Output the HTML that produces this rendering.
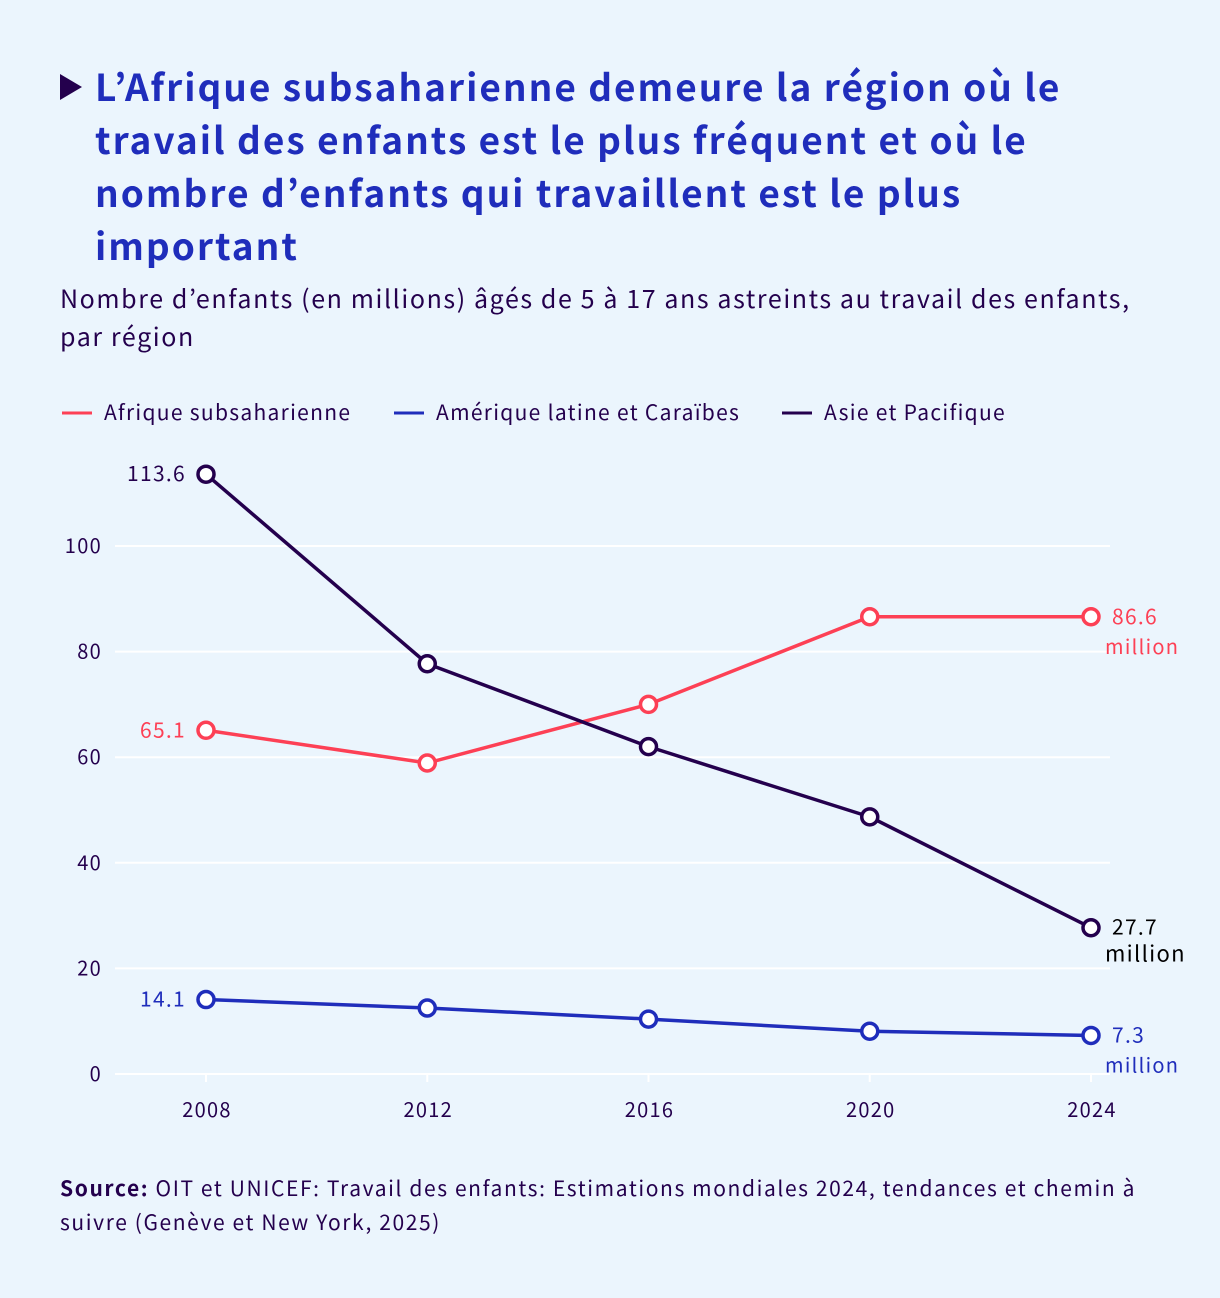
<!DOCTYPE html>
<html><head><meta charset="utf-8"><style>
body{margin:0;background:#ebf5fd;font-family:"Noto Sans CJK JP","Liberation Sans",sans-serif;}
#wrap{position:relative;width:1220px;height:1298px;overflow:hidden;background:#ebf5fd;}
h1{position:absolute;left:95px;top:59px;margin:0;width:1100px;font-size:37px;line-height:53px;color:#1f2dbb;font-weight:bold;white-space:nowrap;letter-spacing:2px;}
.tri{position:absolute;left:60px;top:74px;width:0;height:0;border-top:13px solid transparent;border-bottom:13px solid transparent;border-left:22px solid #24004d;}
.sub{position:absolute;left:60px;top:279px;font-size:25px;line-height:38px;color:#24004d;white-space:nowrap;letter-spacing:1.6px;}
.src{position:absolute;left:60px;top:1171px;font-size:21px;line-height:34px;color:#24004d;white-space:nowrap;letter-spacing:1.6px;}
svg text{font-family:"Noto Sans CJK JP","Liberation Sans",sans-serif;letter-spacing:1.3px;}
</style></head><body><div id="wrap">
<div class="tri"></div>
<h1>L’Afrique subsaharienne demeure la région où le<br>travail des enfants est le plus fréquent et où le<br>nombre d’enfants qui travaillent est le plus<br>important</h1>
<div class="sub">Nombre d’enfants (en millions) âgés de 5 à 17 ans astreints au travail des enfants,<br>par région</div>
<svg id="svg" width="1220" height="1298" style="position:absolute;left:0;top:0"></svg>
<div class="src"><b>Source:</b> OIT et UNICEF: Travail des enfants: Estimations mondiales 2024, tendances et chemin à<br>suivre (Genève et New York, 2025)</div>
</div>
<script>
const years=[2008,2012,2016,2020,2024];
const africa=[65.1,58.9,70.0,86.6,86.6];
const latam=[14.1,12.5,10.4,8.1,7.3];
const asia=[113.6,77.7,62.0,48.7,27.7];
const yTicks=[0,20,40,60,80,100];
const seriesNames=["Afrique subsaharienne","Amérique latine et Caraïbes","Asie et Pacifique"];
const NS="http://www.w3.org/2000/svg";
const svg=document.getElementById('svg');
const xs=y=>206+(y-2008)*(1091-206)/16;
const ys=v=>1074-v*5.28;
function el(t,a,txt){const e=document.createElementNS(NS,t);for(const k in a)e.setAttribute(k,a[k]);if(txt!==undefined)e.textContent=txt;svg.appendChild(e);return e;}
yTicks.forEach(t=>{
 const l=el('line',{x1:115,x2:1110,y1:ys(t),y2:ys(t),stroke:'#fff','stroke-width':2});
 
 
 const tx=el('text',{x:102,y:ys(t)+7,'text-anchor':'end','font-size':20,fill:'#24004d'},t);
 
 
});
years.forEach(y=>{
 const tk=el('line',{x1:xs(y),x2:xs(y),y1:1074,y2:1082,stroke:'#fff','stroke-width':2});
 
 
 const tx=el('text',{x:xs(y)+1,y:1117,'text-anchor':'middle','font-size':20,fill:'#24004d'},y);
 
 
});
const cols=['#fd4055','#1f2dbb','#24004d'];
const data=[africa,latam,asia];
const keys=['africa','latam','asia'];
const lx=[62,394,782];
seriesNames.forEach((n,i)=>{
 const l=el('line',{x1:lx[i],x2:lx[i]+30,y1:413,y2:413,stroke:cols[i],'stroke-width':3});
 
 
 const t=el('text',{x:lx[i]+42,y:420,'font-size':21,fill:'#24004d'},n);
 
 
});
data.forEach((d,i)=>{
 const p=el('polyline',{points:d.map((v,j)=>xs(years[j])+','+ys(v)).join(' '),fill:'none',stroke:cols[i],'stroke-width':3.5,'stroke-linejoin':'round'});
 
 
});
data.forEach((d,i)=>{
 d.forEach((v,j)=>{
  const c=el('circle',{cx:xs(years[j]),cy:ys(v),r:8,fill:'#fff',stroke:cols[i],'stroke-width':3.5});
  
  
 });
});
const labColor=['#fd4055','#1f2dbb','#24004d'];
data.forEach((d,i)=>{
 const a=el('text',{x:xs(years[0])-20,y:ys(d[0])+7,'text-anchor':'end','font-size':21,fill:labColor[i]},d[0].toFixed(1));
 
 
 const last=d[d.length-1];
 const b=el('text',{x:xs(years[4])+21,y:ys(last)+7,'font-size':21,fill:i==2?'#000':labColor[i]},last.toFixed(1));
 
 
 const m=el('text',{x:xs(years[4])+14,y:ys(last)+(i==2?34:37),'font-size':i==2?22:20,fill:i==2?'#000':labColor[i]},'million');
 
 
});
</script></body></html>
